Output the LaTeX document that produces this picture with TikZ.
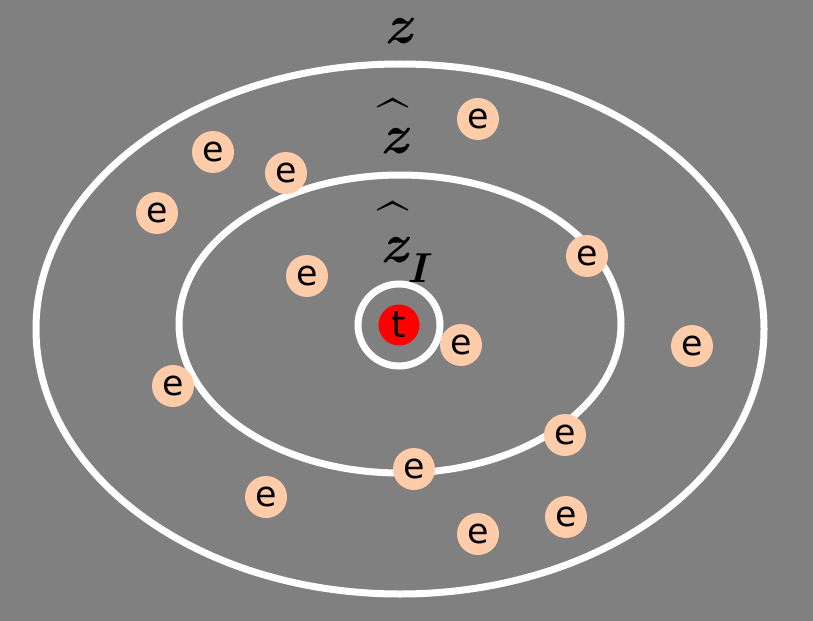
\documentclass[tikz,border=0pt]{standalone}
\usepackage{fontspec}
\newfontfamily\dejavu{DejaVu Sans}
\usepackage{xcolor}
\definecolor{peach}{RGB}{255,204,170}
\usetikzlibrary{positioning}

\newcommand{\zsub}[1]{z\raisebox{-20bp}{\fontsize{42}{42}\selectfont #1}}

\begin{document}
\begin{tikzpicture}[x=1bp, y=-1bp,
    el/.style={circle, fill=peach, minimum size=42bp, inner sep=0pt,
               font=\dejavu\fontsize{35}{35}\selectfont},
    tn/.style={circle, fill=red, minimum size=41bp, inner sep=0pt,
               font=\dejavu\fontsize{37}{37}\selectfont},
    zl/.style={font=\fontsize{56}{60}\selectfont\bfseries\itshape, inner sep=0pt},
    hat/.style={font=\fontsize{56}{60}\selectfont\bfseries, inner sep=0pt, anchor=base},
    ring/.style={draw=white, line width=7bp}]
  \fill[gray] (0,0) rectangle (813,621);
  % the three regions
  \draw[ring] (400,329) ellipse [x radius=364, y radius=265];
  \draw[ring] (400,324) ellipse [x radius=221, y radius=149];
  \draw[ring] (399,325) circle (41);
  \node[tn] (t) at (399,325) {t};
  % labels
  \node[zl] (zall) at (398,31) {z};
  \node[zl] (zhat) at (394,141) {z};
  \node[hat] (hat1) at (393,140) {\^{}};
  \node[zl, anchor=base west] (zint) at (380,262) {\zsub{I}};
  \node[hat] (hat2) at (393,243) {\^{}};
  % examples
  \foreach \p [count=\i] in {(478,119), (213,152), (286,173), (157,213),
                             (587,256), (307,276), (461,345), (692,346),
                             (173,386), (565,435), (414,469), (266,497),
                             (566,517), (478,534)}{
    \node[el] (e\i) at \p {e};}
\end{tikzpicture}
\end{document}
